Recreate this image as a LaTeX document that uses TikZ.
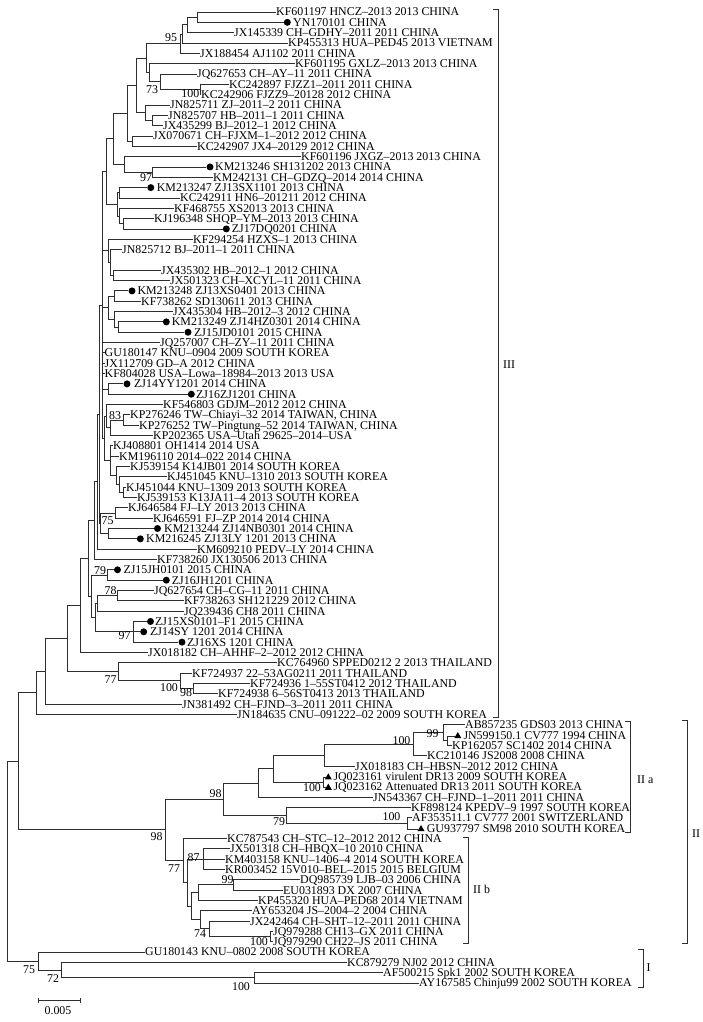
\documentclass[tikz,border=0pt]{standalone}
\usepackage{fontspec}
\setmainfont{Liberation Serif}
\usetikzlibrary{calc,shapes.geometric}
\newcommand\treefont{\fontsize{11.9}{12}\selectfont}
\newcommand\lf[4]{\node[leaflab] (#1) at (#3,{12+10.33*#2}) {#4};}
\newcommand\lfd[5]{\node[dotm] (#1) at (#3,{12+10.33*#2}) {};\node[leaflab] (#1t) at (#4,{12+10.33*#2}) {#5};}
\newcommand\lft[5]{\node[trimark] (#1) at (#3,{12+10.33*#2+1}) {};\node[leaflab] (#1t) at (#4,{12+10.33*#2}) {#5};}
\newcommand\nd[4]{\path let \p1=($(#3)!0.5!(#4)$) in coordinate (#1) at (#2pt,\y1);}
\newcommand\cn[2]{\foreach \ch in {#2}{\draw[br] (#1) |- (\ch);}}
\begin{document}
\begin{tikzpicture}[x=1pt,y=-1pt,
  br/.style={draw=black!82, line width=0.85pt},
  leaflab/.style={anchor=west, inner sep=0pt, text height=7.9pt, text depth=0pt, font=\treefont, text=black},
  dotm/.style={circle, fill=black, inner sep=0pt, minimum size=7pt},
  trimark/.style={regular polygon, regular polygon sides=3, fill=black, inner sep=0pt, minimum size=8.2pt},
  bslab/.style={inner sep=0pt, text height=7.9pt, text depth=0pt, font=\treefont, text=black},
]
\fill[white] (0,0) rectangle (702,1022);
\useasboundingbox (0,0) rectangle (702,1022);
% ---------------- leaves: clade III
\lf{KF601197}{0}{276}{KF601197 HNCZ–2013 2013 CHINA}
\lfd{YN170101}{1}{287.3}{293}{YN170101 CHINA}
\lf{JX145339}{2}{234}{JX145339 CH–GDHY–2011 2011 CHINA}
\lf{KP455313}{3}{288}{KP455313 HUA–PED45 2013 VIETNAM}
\lf{JX188454}{4}{200}{JX188454 AJ1102 2011 CHINA}
\lf{KF601195}{5}{295}{KF601195 GXLZ–2013 2013 CHINA}
\lf{JQ627653}{6}{197}{JQ627653 CH–AY–11 2011 CHINA}
\lf{KC242897}{7}{229}{KC242897 FJZZ1–2011 2011 CHINA}
\lf{KC242906}{8}{201}{KC242906 FJZZ9–20128 2012 CHINA}
\lf{JN825711}{9}{170}{JN825711 ZJ–2011–2 2011 CHINA}
\lf{JN825707}{10}{168}{JN825707 HB–2011–1 2011 CHINA}
\lf{JX435299}{11}{163}{JX435299 BJ–2012–1 2012 CHINA}
\lf{JX070671}{12}{153}{JX070671 CH–FJXM–1–2012 2012 CHINA}
\lf{KC242907}{13}{197}{KC242907 JX4–20129 2012 CHINA}
\lf{KF601196}{14}{301}{KF601196 JXGZ–2013 2013 CHINA}
\lfd{KM213246}{15}{210}{215}{KM213246 SH131202 2013 CHINA}
\lf{KM242131}{16}{213}{KM242131 CH–GDZQ–2014 2014 CHINA}
\lfd{KM213247}{17}{150.8}{156.7}{KM213247 ZJ13SX1101 2013 CHINA}
\lf{KC242911}{18}{180}{KC242911 HN6–201211 2012 CHINA}
\lf{KF468755}{19}{174}{KF468755 XS2013 2013 CHINA}
\lf{KJ196348}{20}{154}{KJ196348 SHQP–YM–2013 2013 CHINA}
\lfd{ZJ17DQ0201}{21}{226.3}{231.7}{ZJ17DQ0201 CHINA}
\lf{KF294254}{22}{193}{KF294254 HZXS–1 2013 CHINA}
\lf{JN825712}{23}{122}{JN825712 BJ–2011–1 2011 CHINA}
\lf{JX435302}{25}{161}{JX435302 HB–2012–1 2012 CHINA}
\lf{JX501323}{26}{170}{JX501323 CH–XCYL–11 2011 CHINA}
\lfd{KM213248}{27}{132}{137.3}{KM213248 ZJ13XS0401 2013 CHINA}
\lf{KF738262}{28}{141}{KF738262 SD130611 2013 CHINA}
\lf{JX435304}{29}{173}{JX435304 HB–2012–3 2012 CHINA}
\lfd{KM213249}{30}{166.3}{171.7}{KM213249 ZJ14HZ0301 2014 CHINA}
\lfd{ZJ15JD0101}{31}{188}{194}{ZJ15JD0101 2015 CHINA}
\lf{JQ257007}{32}{160}{JQ257007 CH–ZY–11 2011 CHINA}
\lf{GU180147}{33}{104.5}{GU180147 KNU–0904 2009 SOUTH KOREA}
\lf{JX112709}{34}{104.5}{JX112709 GD–A 2012 CHINA}
\lf{KF804028}{35}{104.5}{KF804028 USA–Lowa–18984–2013 2013 USA}
\lfd{ZJ14YY1201}{36}{127}{134}{ZJ14YY1201 2014 CHINA}
\lfd{ZJ16ZJ1201}{37}{191.3}{196}{ZJ16ZJ1201 CHINA}
\lf{KF546803}{38}{163}{KF546803 GDJM–2012 2012 CHINA}
\lf{KP276246}{39}{130}{KP276246 TW–Chiayi–32 2014 TAIWAN, CHINA}
\lf{KP276252}{40}{139}{KP276252 TW–Pingtung–52 2014 TAIWAN, CHINA}
\lf{KP202365}{41}{153}{KP202365 USA–Utah 29625–2014–USA}
\lf{KJ408801}{42}{113}{KJ408801 OH1414 2014 USA}
\lf{KM196110}{43}{119}{KM196110 2014–022 2014 CHINA}
\lf{KJ539154}{44}{130}{KJ539154 K14JB01 2014 SOUTH KOREA}
\lf{KJ451045}{45}{167}{KJ451045 KNU–1310 2013 SOUTH KOREA}
\lf{KJ451044}{46}{126}{KJ451044 KNU–1309 2013 SOUTH KOREA}
\lf{KJ539153}{47}{137}{KJ539153 K13JA11–4 2013 SOUTH KOREA}
\lf{KJ646584}{48}{128}{KJ646584 FJ–LY 2013 2013 CHINA}
\lf{KJ646591}{49}{153}{KJ646591 FJ–ZP 2014 2014 CHINA}
\lfd{KM213244}{50}{157.5}{164}{KM213244 ZJ14NB0301 2014 CHINA}
\lfd{KM216245}{51}{140.3}{146}{KM216245 ZJ13LY 1201 2013 CHINA}
\lf{KM609210}{52}{197}{KM609210 PEDV–LY 2014 CHINA}
\lf{KF738260}{53}{157}{KF738260 JX130506 2013 CHINA}
\lfd{ZJ15JH0101}{54}{117.5}{123.3}{ZJ15JH0101 2015 CHINA}
\lfd{ZJ16JH1201}{55}{166.3}{171.7}{ZJ16JH1201 CHINA}
\lf{JQ627654}{56}{154}{JQ627654 CH–CG–11 2011 CHINA}
\lf{KF738263}{57}{184}{KF738263 SH121229 2012 CHINA}
\lf{JQ239436}{58}{184}{JQ239436 CH8 2011 CHINA}
\lfd{ZJ15XS0101}{59}{150.5}{155}{ZJ15XS0101–F1 2015 CHINA}
\lfd{ZJ14SY1201}{60}{143.7}{150}{ZJ14SY 1201 2014 CHINA}
\lfd{ZJ16XS1201}{61}{182}{187}{ZJ16XS 1201 CHINA}
\lf{JX018182}{62}{148}{JX018182 CH–AHHF–2–2012 2012 CHINA}
\lf{KC764960}{63}{277}{KC764960 SPPED0212 2 2013 THAILAND}
\lf{KF724937}{64}{192}{KF724937 22–53AG0211 2011 THAILAND}
\lf{KF724936}{65}{250}{KF724936 1–55ST0412 2012 THAILAND}
\lf{KF724938}{66}{218}{KF724938 6–56ST0413 2013 THAILAND}
\lf{JN381492}{67}{182}{JN381492 CH–FJND–3–2011 2011 CHINA}
\lf{JN184635}{68}{237}{JN184635 CNU–091222–02 2009 SOUTH KOREA}
% ---------------- leaves: clade II
\lf{AB857235}{69}{465}{AB857235 GDS03 2013 CHINA}
\lft{JN599150}{70}{457.8}{463.3}{JN599150.1 CV777 1994 CHINA}
\lf{KP162057}{71}{452}{KP162057 SC1402 2014 CHINA}
\lf{KC210146}{72}{427}{KC210146 JS2008 2008 CHINA}
\lf{JX018183}{73}{355}{JX018183 CH–HBSN–2012 2012 CHINA}
\lft{JQ023161}{74}{328.3}{333.3}{JQ023161 virulent DR13 2009 SOUTH KOREA}
\lft{JQ023162}{75}{328.3}{333.3}{JQ023162 Attenuated DR13 2011 SOUTH KOREA}
\lf{JN543367}{76}{373}{JN543367 CH–FJND–1–2011 2011 CHINA}
\lf{KF898124}{77}{411}{KF898124 KPEDV–9 1997 SOUTH KOREA}
\lf{AF353511}{78}{412}{AF353511.1 CV777 2001 SWITZERLAND}
\lft{GU937797}{79}{421}{426.7}{GU937797 SM98 2010 SOUTH KOREA}
\lf{KC787543}{80}{227}{KC787543 CH–STC–12–2012 2012 CHINA}
\lf{JX501318}{81}{230}{JX501318 CH–HBQX–10 2010 CHINA}
\lf{KM403158}{82}{225}{KM403158 KNU–1406–4 2014 SOUTH KOREA}
\lf{KR003452}{83}{225}{KR003452 15V010–BEL–2015 2015 BELGIUM}
\lf{DQ985739}{84}{300}{DQ985739 LJB–03 2006 CHINA}
\lf{EU031893}{85}{283}{EU031893 DX 2007 CHINA}
\lf{KP455320}{86}{258}{KP455320 HUA–PED68 2014 VIETNAM}
\lf{AY653204}{87}{252}{AY653204 JS–2004–2 2004 CHINA}
\lf{JX242464}{88}{250}{JX242464 CH–SHT–12–2011 2011 CHINA}
\lf{JQ979288}{89}{273}{JQ979288 CH13–GX 2011 CHINA}
\lf{JQ979290}{90}{273}{JQ979290 CH22–JS 2011 CHINA}
% ---------------- leaves: clade I
\lf{GU180143}{91}{145}{GU180143 KNU–0802 2008 SOUTH KOREA}
\lf{KC879279}{92}{347}{KC879279 NJ02 2012 CHINA}
\lf{AF500215}{93}{383}{AF500215 Spk1 2002 SOUTH KOREA}
\lf{AY167585}{94}{419}{AY167585 Chinju99 2002 SOUTH KOREA}
% ---------------- internal nodes
\nd{A}{197}{KF601197}{YN170101}
\nd{B}{187}{A}{JX145339}
\nd{C}{182}{B}{KP455313}
\nd{D}{180}{C}{JX188454}
\nd{H}{200}{KC242897}{KC242906}
\nd{G}{160}{JQ627653}{H}
\nd{F}{149}{KF601195}{G}
\nd{E}{146}{D}{F}
\nd{J}{152}{JN825707}{JX435299}
\nd{I}{145}{JN825711}{J}
\nd{K}{136}{E}{I}
\nd{M}{132}{JX070671}{KC242907}
\nd{L}{127}{K}{M}
\nd{P}{152}{KM213246}{KM242131}
\nd{O}{124}{KF601196}{P}
\nd{N}{113}{L}{O}
\nd{R}{119}{KM213247}{KC242911}
\nd{T}{123}{KJ196348}{ZJ17DQ0201}
\nd{S}{119}{KF468755}{T}
\nd{U}{117}{R}{S}
\nd{Q}{106}{N}{U}
\nd{Yn}{113}{JX435302}{JX501323}
\nd{X}{110}{JN825712}{Yn}
\nd{W}{108}{KF294254}{X}
\nd{Za}{114}{KM213248}{KF738262}
\nd{Zc}{118}{KM213249}{ZJ15JD0101}
\nd{Zb}{114}{JX435304}{Zc}
\nd{Z}{108}{Za}{Zb}
\nd{YY}{108}{ZJ14YY1201}{ZJ16ZJ1201}
\nd{TW}{123}{KP276246}{KP276252}
\nd{UT}{110}{TW}{KP202365}
\nd{GD}{106}{KF546803}{UT}
\nd{Ka}{123}{KJ451044}{KJ539153}
\nd{Kb}{119}{KJ451045}{Ka}
\nd{Kc}{116}{KJ539154}{Kb}
\nd{KR}{110}{KJ408801}{Kc}
\nd{GK}{104}{GD}{KR}
\nd{Pz}{102}{Q}{GK}
\nd{Na}{115}{KJ646584}{KJ646591}
\nd{KMn}{108}{KM213244}{KM216245}
\nd{Ab}{100.5}{Na}{KMn}
\nd{Pa}{99}{Pz}{Ab}
\nd{Pb}{97}{Pa}{KM609210}
\nd{Pc}{94}{Pb}{KF738260}
\nd{Ja}{107}{ZJ15JH0101}{ZJ16JH1201}
\nd{Ma}{117}{JQ627654}{KF738263}
\nd{Mb}{97}{Ma}{JQ239436}
\nd{Nn}{133}{ZJ15XS0101}{ZJ16XS1201}
\nd{Bb}{95}{Mb}{Nn}
\nd{Ba}{91}{Ja}{Bb}
\nd{Cc}{88}{Pc}{Ba}
\nd{Bc}{80}{Cc}{JX018182}
\nd{Tc}{193}{KF724936}{KF724938}
\nd{Tb}{180}{KF724937}{Tc}
\nd{Ta}{118}{KC764960}{Tb}
\nd{Dd}{67}{Bc}{Ta}
\nd{Ee}{45.7}{Dd}{JN381492}
\nd{Ff}{36}{Ee}{JN184635}
\nd{Aa}{447}{JN599150}{KP162057}
\nd{Ab2}{443}{AB857235}{Aa}
\nd{Ac}{413}{Ab2}{KC210146}
\nd{Ad}{324}{Ac}{JX018183}
\nd{Ae}{323}{JQ023161}{JQ023162}
\nd{Af}{273}{Ad}{Ae}
\nd{Ag}{258}{Af}{JN543367}
\nd{Ai}{407}{AF353511}{GU937797}
\nd{Ah}{286}{KF898124}{Ai}
\nd{IIa}{223}{Ag}{Ah}
\nd{Ba1}{203}{JX501318}{KR003452}
\nd{Bb2}{233}{DQ985739}{EU031893}
\nd{Bb3}{198}{Bb2}{KP455320}
\nd{Bb4}{270}{JQ979288}{JQ979290}
\nd{Bb5}{209}{JX242464}{Bb4}
\nd{Bb6}{200}{AY653204}{Bb5}
\nd{Bb7}{191}{Bb3}{Bb6}
\nd{Bb8}{187}{Ba1}{Bb7}
\nd{IIb}{183}{KC787543}{Bb8}
\nd{IIn}{165}{IIa}{IIb}
\nd{Rt2}{18}{Ff}{IIn}
\nd{Ic}{254}{AF500215}{AY167585}
\nd{Ib}{61}{KC879279}{Ic}
\nd{Ia}{38}{GU180143}{Ib}
\nd{Rt}{7}{Rt2}{Ia}
% ---------------- connectors
\cn{A}{KF601197,YN170101}
\cn{B}{A,JX145339}
\cn{C}{B,KP455313}
\cn{D}{C,JX188454}
\cn{H}{KC242897,KC242906}
\cn{G}{JQ627653,H}
\cn{F}{KF601195,G}
\cn{E}{D,F}
\cn{J}{JN825707,JX435299}
\cn{I}{JN825711,J}
\cn{K}{E,I}
\cn{M}{JX070671,KC242907}
\cn{L}{K,M}
\cn{P}{KM213246,KM242131}
\cn{O}{KF601196,P}
\cn{N}{L,O}
\cn{R}{KM213247,KC242911}
\cn{T}{KJ196348,ZJ17DQ0201}
\cn{S}{KF468755,T}
\cn{U}{R,S}
\cn{Q}{N,U}
\cn{Yn}{JX435302,JX501323}
\cn{X}{JN825712,Yn}
\cn{W}{KF294254,X}
\cn{Za}{KM213248,KF738262}
\cn{Zc}{KM213249,ZJ15JD0101}
\cn{Zb}{JX435304,Zc}
\cn{Z}{Za,Zb}
\cn{YY}{ZJ14YY1201,ZJ16ZJ1201}
\cn{TW}{KP276246,KP276252}
\cn{UT}{TW,KP202365}
\cn{GD}{KF546803,UT}
\cn{Ka}{KJ451044,KJ539153}
\cn{Kb}{KJ451045,Ka}
\cn{Kc}{KJ539154,Kb}
\cn{KR}{KJ408801,KM196110,Kc}
\cn{GK}{GD,KR}
\cn{Pz}{Q,W,Z,JQ257007,GU180147,JX112709,KF804028,YY,GK}
\cn{Na}{KJ646584,KJ646591}
\cn{KMn}{KM213244,KM216245}
\cn{Ab}{Na,KMn}
\cn{Pa}{Pz,Ab}
\cn{Pb}{Pa,KM609210}
\cn{Pc}{Pb,KF738260}
\cn{Ja}{ZJ15JH0101,ZJ16JH1201}
\cn{Ma}{JQ627654,KF738263}
\cn{Mb}{Ma,JQ239436}
\cn{Nn}{ZJ15XS0101,ZJ14SY1201,ZJ16XS1201}
\cn{Bb}{Mb,Nn}
\cn{Ba}{Ja,Bb}
\cn{Cc}{Pc,Ba}
\cn{Bc}{Cc,JX018182}
\cn{Tc}{KF724936,KF724938}
\cn{Tb}{KF724937,Tc}
\cn{Ta}{KC764960,Tb}
\cn{Dd}{Bc,Ta}
\cn{Ee}{Dd,JN381492}
\cn{Ff}{Ee,JN184635}
\cn{Aa}{JN599150,KP162057}
\cn{Ab2}{AB857235,Aa}
\cn{Ac}{Ab2,KC210146}
\cn{Ad}{Ac,JX018183}
\cn{Ae}{JQ023161,JQ023162}
\cn{Af}{Ad,Ae}
\cn{Ag}{Af,JN543367}
\cn{Ai}{AF353511,GU937797}
\cn{Ah}{KF898124,Ai}
\cn{IIa}{Ag,Ah}
\cn{Ba1}{JX501318,KM403158,KR003452}
\cn{Bb2}{DQ985739,EU031893}
\cn{Bb3}{Bb2,KP455320}
\cn{Bb4}{JQ979288,JQ979290}
\cn{Bb5}{JX242464,Bb4}
\cn{Bb6}{AY653204,Bb5}
\cn{Bb7}{Bb3,Bb6}
\cn{Bb8}{Ba1,Bb7}
\cn{IIb}{KC787543,Bb8}
\cn{IIn}{IIa,IIb}
\cn{Rt2}{Ff,IIn}
\cn{Ic}{AF500215,AY167585}
\cn{Ib}{KC879279,Ic}
\cn{Ia}{GU180143,Ib}
\cn{Rt}{Rt2,Ia}
% ---------------- bootstrap values
\node[bslab] (s95) at (171,37.5) {95};
\node[bslab] (s73) at (152,89.5) {73};
\node[bslab,anchor=east] (s100a) at (199.5,94) {100};
\node[bslab] (s97a) at (146,178) {97};
\node[bslab] (s83) at (115,415.5) {83};
\node[bslab] (s75a) at (107.5,521) {75};
\node[bslab] (s79a) at (100,570.5) {79};
\node[bslab] (s78) at (110.5,590.5) {78};
\node[bslab] (s97b) at (124.5,636) {97};
\node[bslab] (s77a) at (110.5,680) {77};
\node[bslab] (s100b) at (169,688) {100};
\node[bslab] (s98a) at (186,693) {98};
\node[bslab] (s100c) at (401.5,740.5) {100};
\node[bslab] (s99a) at (432.5,734) {99};
\node[bslab] (s100d) at (312,788) {100};
\node[bslab] (s98b) at (215.5,794) {98};
\node[bslab] (s79b) at (279,822) {79};
\node[bslab] (s100e) at (391.5,817) {100};
\node[bslab] (s98c) at (156.5,837) {98};
\node[bslab] (s77b) at (174,868.5) {77};
\node[bslab] (s87) at (193.5,857.5) {87};
\node[bslab] (s99b) at (227.5,880) {99};
\node[bslab] (s74) at (200,933.5) {74};
\node[bslab] (s100f) at (259,941.5) {100};
\node[bslab] (s75b) at (29,969.5) {75};
\node[bslab] (s72) at (53,978.5) {72};
\node[bslab] (s100g) at (241,986.5) {100};
% ---------------- clade brackets
\draw[br] (493,9) -- (498,9) -- (498,717) -- (493,717);
\node[bslab,anchor=west] (cIII) at (503,364.5) {III};
\draw[br] (625,721) -- (630,721) -- (630,832) -- (625,832);
\node[bslab,anchor=west] (cIIa) at (637,780) {II a};
\draw[br] (682,720) -- (687,720) -- (687,943) -- (682,943);
\node[bslab,anchor=west] (cII) at (692,833.5) {II};
\draw[br] (463,837) -- (468,837) -- (468,943) -- (463,943);
\node[bslab,anchor=west] (cIIb) at (473,890) {II b};
\draw[br] (638,949) -- (643,949) -- (643,987) -- (638,987);
\node[bslab,anchor=west] (cI) at (646.5,968) {I};
% ---------------- scale bar
\coordinate (sb1) at (38,1000.7);
\coordinate (sb2) at (80,1000.7);
\draw[br] (sb1) -- (sb2);
\draw[br] ($(sb1)+(0,-2.5)$) -- ($(sb1)+(0,2.5)$);
\draw[br] ($(sb2)+(0,-2.5)$) -- ($(sb2)+(0,2.5)$);
\node[bslab] (sbl) at (58,1010.5) {0.005};
\end{tikzpicture}
\end{document}
